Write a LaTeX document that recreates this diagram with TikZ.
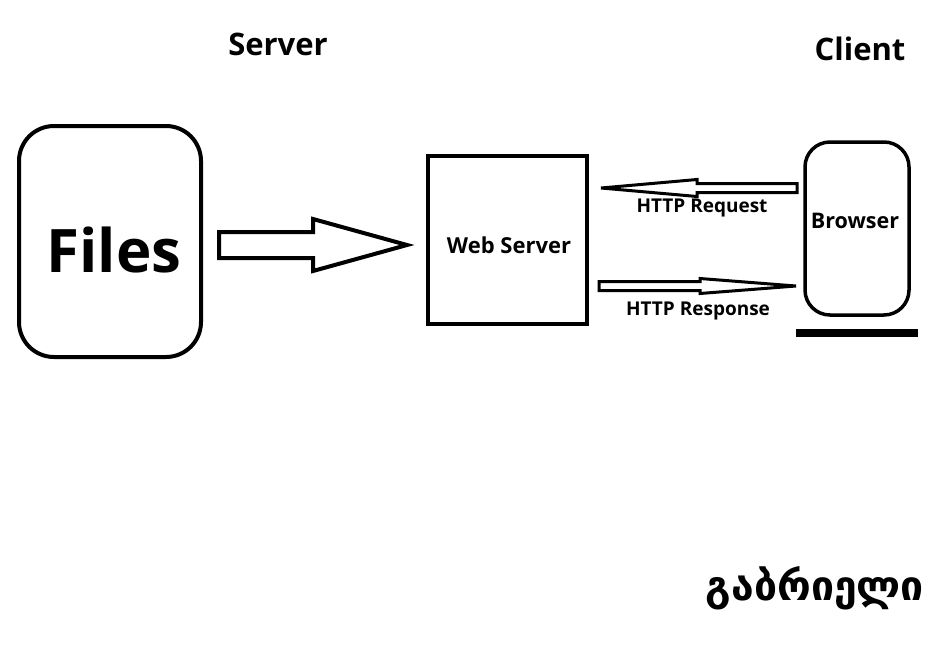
\documentclass[tikz,border=0pt]{standalone}
\usepackage{fontspec}
\setmainfont{Open Sans}
\newfontfamily\georgianfont{DejaVu Sans}
\usetikzlibrary{calc}

% horizontal block arrow: [style]{tail}{tip}{shaft half}{head half}{head length}
\newcommand{\blockarrow}[6][]{%
  \draw[#1] let \p1=(#2), \p2=(#3) in
    ({\x1},{\y1+#4}) -- ({\x2-1*(#6)},{\y1+#4}) -- ({\x2-1*(#6)},{\y1+#5}) -- (\x2,\y2)
    -- ({\x2-1*(#6)},{\y1-#5}) -- ({\x2-1*(#6)},{\y1-#4}) -- ({\x1},{\y1-#4}) -- cycle;}

\tikzset{
  box/.style={draw, line width=4pt, inner sep=0pt},
  arrowline/.style={line width=#1, line join=miter},
  tag/.style={font=\bfseries\fontsize{#1}{#1}\selectfont, inner sep=0pt}
}

\begin{document}
\begin{tikzpicture}[x=1pt, y=-1pt]
  \useasboundingbox (0,0) rectangle (933,648);

  \node[tag=31] (server) at (278,44) {Server};
  \node[tag=31] (client) at (860,49) {Client};

  \node[box, rounded corners=35pt, minimum width=182pt, minimum height=231pt] (files) at (110,241.5) {};
  \node[tag=60] (filestext) at (114,250) {Files};

  \node[box, minimum width=159pt, minimum height=168pt] (webserver) at (507.5,240) {};
  \node[tag=22] (webtext) at (509,245) {Web Server};

  \node[box, line width=3.5pt, rounded corners=25pt, minimum width=104pt, minimum height=173pt] (browser) at (857,228.5) {};
  \node[tag=21.5] (browsertext) at (855,221) {Browser};
  \fill (796,329) rectangle (918,337);

  \coordinate (bigtail) at (219,245);
  \coordinate (bigtip) at (407,245);
  \blockarrow[arrowline=4pt]{bigtail}{bigtip}{13pt}{26pt}{94pt}

  \coordinate (reqtail) at (797,188);
  \coordinate (reqtip) at (601,188);
  \blockarrow[arrowline=3pt]{reqtail}{reqtip}{4.5pt}{8.5pt}{-96pt}
  \node[tag=19] (reqtext) at (702,208) {HTTP Request};

  \coordinate (resptail) at (599,286);
  \coordinate (resptip) at (796,286);
  \blockarrow[arrowline=3pt]{resptail}{resptip}{4.5pt}{7.5pt}{96pt}
  \node[tag=19] (resptext) at (698,311) {HTTP Response};

  \node[tag=41] (name) at (815,588) {\georgianfont გაბრიელი};
\end{tikzpicture}
\end{document}
